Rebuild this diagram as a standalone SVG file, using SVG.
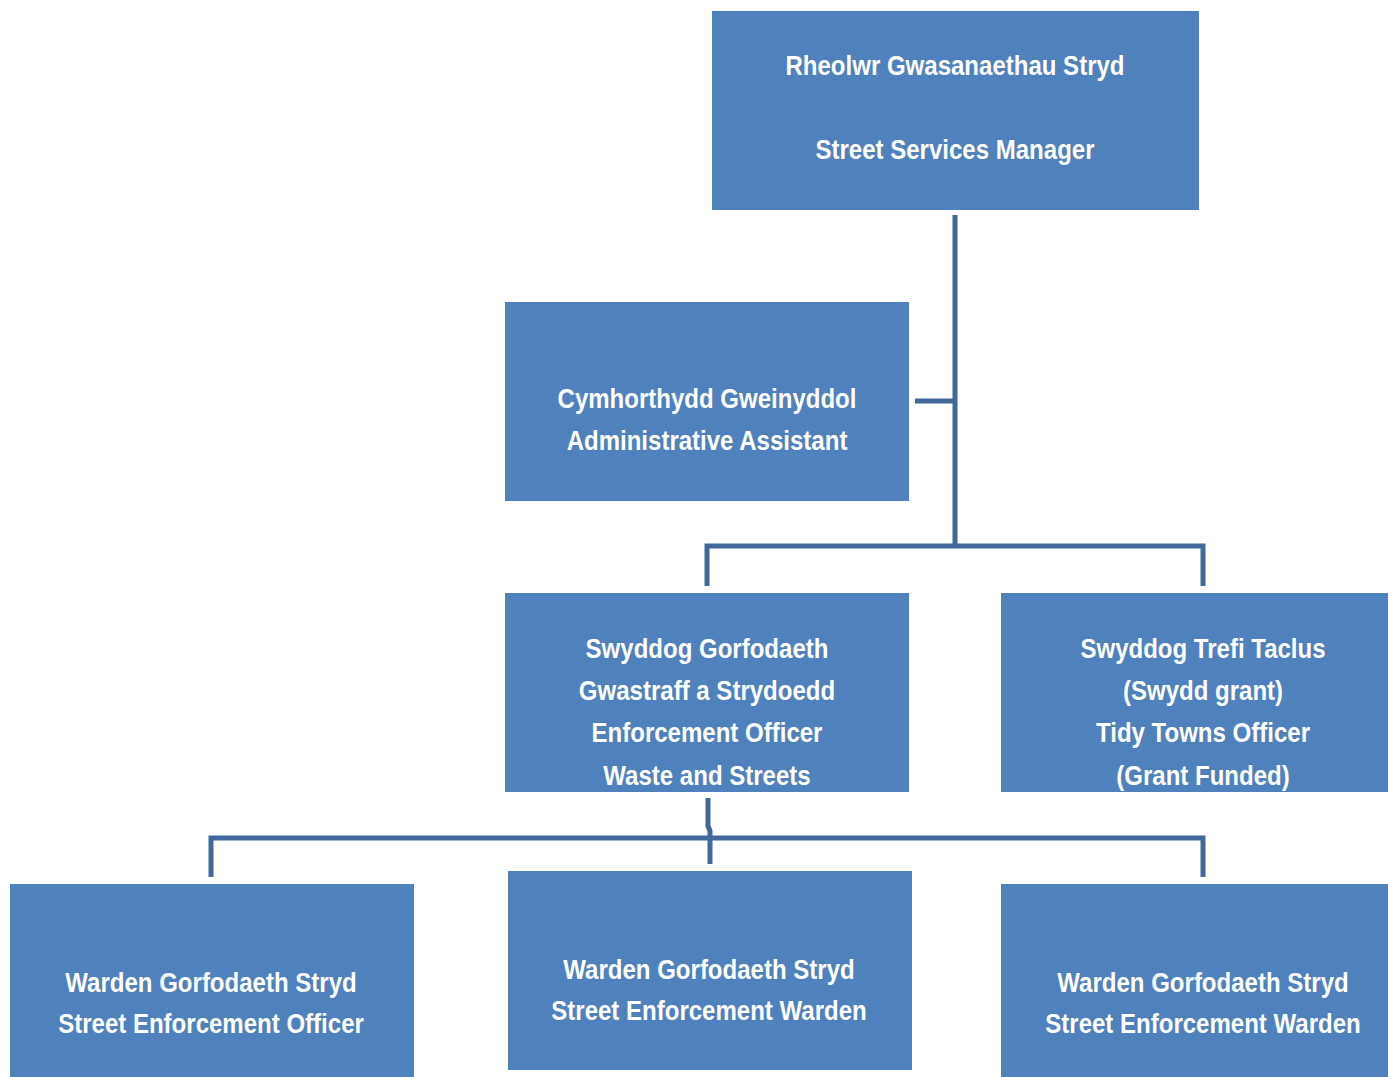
<svg xmlns="http://www.w3.org/2000/svg" width="1388" height="1077" viewBox="0 0 1388 1077">
<style>
.box{fill:#4f81bd;}
.t{font-family:"Liberation Sans",Arial,sans-serif;font-weight:bold;font-size:27px;fill:#ffffff;text-anchor:middle;}
.c{fill:none;stroke:#41689b;stroke-width:5;}
</style>
<defs>
<clipPath id="clipTidy"><rect x="1001" y="593" width="404" height="199"/></clipPath>
</defs>
<rect width="1388" height="1077" fill="#ffffff"/>
<g id="connectors">
<path class="c" d="M955 215 V546"/>
<path class="c" d="M915 401 H955"/>
<path class="c" d="M707 586 V546 H1203 V586"/>
<path class="c" d="M708 798 V826 L710 831 V864"/>
<path class="c" d="M211 877 V838 H1203 V877"/>
</g>
<g id="n-manager">
<rect class="box" x="712" y="11" width="487" height="199"/>
<text class="t" transform="translate(955 0) scale(0.89 1)"><tspan x="0" y="75">Rheolwr Gwasanaethau Stryd</tspan><tspan x="0" y="159">Street Services Manager</tspan></text>
</g>
<g id="n-admin">
<rect class="box" x="505" y="302" width="404" height="199"/>
<text class="t" transform="translate(707 0) scale(0.89 1)"><tspan x="0" y="408">Cymhorthydd Gweinyddol</tspan><tspan x="0" y="450">Administrative Assistant</tspan></text>
</g>
<g id="n-enforcement">
<rect class="box" x="505" y="593" width="404" height="199"/>
<text class="t" transform="translate(707 0) scale(0.89 1)"><tspan x="0" y="658">Swyddog Gorfodaeth</tspan><tspan x="0" y="700">Gwastraff a Strydoedd</tspan><tspan x="0" y="742">Enforcement Officer</tspan><tspan x="0" y="785">Waste and Streets</tspan></text>
</g>
<g id="n-tidy">
<rect class="box" x="1001" y="593" width="404" height="199"/>
<g clip-path="url(#clipTidy)">
<text class="t" transform="translate(1203 0) scale(0.89 1)"><tspan x="0" y="658">Swyddog Trefi Taclus</tspan><tspan x="0" y="700">(Swydd grant)</tspan><tspan x="0" y="742">Tidy Towns Officer</tspan><tspan x="0" y="785">(Grant Funded)</tspan></text>
</g>
</g>
<g id="n-officer">
<rect class="box" x="10" y="884" width="404" height="199"/>
<text class="t" transform="translate(211 0) scale(0.89 1)"><tspan x="0" y="992">Warden Gorfodaeth Stryd</tspan><tspan x="0" y="1033">Street Enforcement Officer</tspan></text>
</g>
<g id="n-warden1">
<rect class="box" x="508" y="871" width="404" height="199"/>
<text class="t" transform="translate(709 0) scale(0.89 1)"><tspan x="0" y="979">Warden Gorfodaeth Stryd</tspan><tspan x="0" y="1020">Street Enforcement Warden</tspan></text>
</g>
<g id="n-warden2">
<rect class="box" x="1001" y="884" width="404" height="199"/>
<text class="t" transform="translate(1203 0) scale(0.89 1)"><tspan x="0" y="992">Warden Gorfodaeth Stryd</tspan><tspan x="0" y="1033">Street Enforcement Warden</tspan></text>
</g>
</svg>
